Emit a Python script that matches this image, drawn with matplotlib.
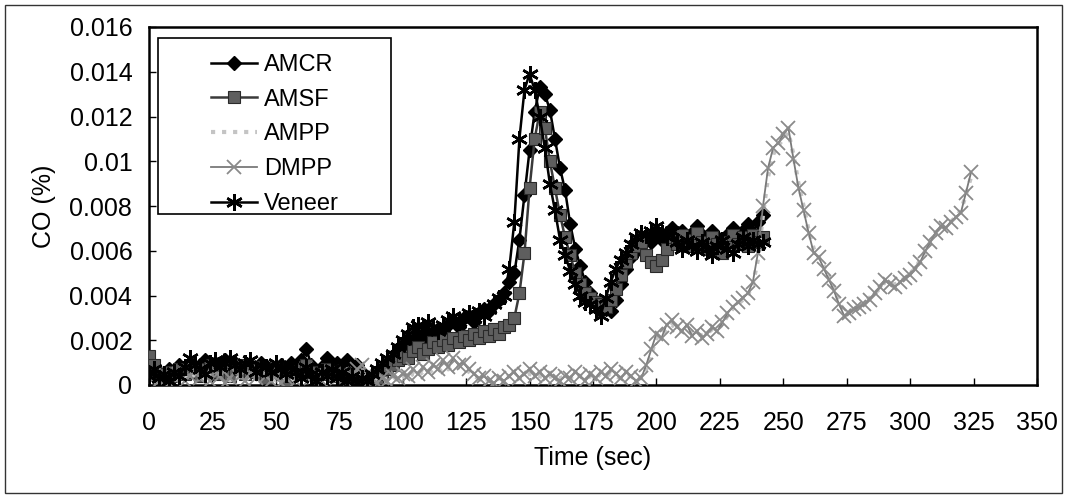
import numpy as np
import matplotlib
matplotlib.use("Agg")
import matplotlib.pyplot as plt
from matplotlib.patches import Rectangle
from matplotlib.ticker import FormatStrFormatter

plt.rcParams['font.family'] = ['Liberation Sans', 'DejaVu Sans']

# time axes (sec)
t_short = np.arange(0, 243, 2)   # AMCR, AMSF, Veneer
t_long = np.arange(0, 325, 2)    # AMPP, DMPP

amcr = [
    0.0008, 0.0004, 0.0006, 0.0003, 0.0007, 0.0005, 0.0009, 0.0006,
    0.0010, 0.0007, 0.0009, 0.0011, 0.0006, 0.0010, 0.0008, 0.0011,
    0.0007, 0.0010, 0.0008, 0.0006, 0.0009, 0.0007, 0.0010, 0.0005,
    0.0008, 0.0006, 0.0009, 0.0004, 0.0010, 0.0007, 0.0011, 0.0016,
    0.0009, 0.0005, 0.0008, 0.0012, 0.0006, 0.0010, 0.0004, 0.0011,
    0.0005, 0.0009, 0.0003, 0.0001, 0.0002, 0.0004, 0.0006, 0.0009,
    0.0012, 0.0015, 0.0018, 0.0016, 0.0020, 0.0022, 0.0019, 0.0023,
    0.0021, 0.0025, 0.0024, 0.0027, 0.0029, 0.0026, 0.0030, 0.0031,
    0.0028, 0.0032, 0.0034, 0.0033, 0.0036, 0.0038, 0.0041, 0.0046,
    0.0050, 0.0065, 0.0085, 0.0105, 0.0122, 0.0133, 0.0130, 0.0123,
    0.0110, 0.0097, 0.0087, 0.0072, 0.0061, 0.0053, 0.0046, 0.0041,
    0.0037, 0.0036, 0.0034, 0.0033, 0.0038, 0.0045, 0.0052, 0.0057,
    0.0060, 0.0063, 0.0066, 0.0064, 0.0067, 0.0065, 0.0068, 0.0070,
    0.0066, 0.0069, 0.0064, 0.0068, 0.0071, 0.0067, 0.0065, 0.0069,
    0.0066, 0.0062, 0.0067, 0.0070, 0.0066, 0.0069, 0.0072, 0.0068,
    0.0073, 0.0076,
]

amsf = [
    0.0013, 0.0009, 0.0005, 0.0003, 0.0006, 0.0004, 0.0007, 0.0005,
    0.0008, 0.0006, 0.0004, 0.0007, 0.0009, 0.0005, 0.0006, 0.0008,
    0.0004, 0.0007, 0.0009, 0.0005, 0.0006, 0.0008, 0.0005, 0.0003,
    0.0006, 0.0008, 0.0005, 0.0002, 0.0004, 0.0007, 0.0005, 0.0009,
    0.0006, 0.0003, 0.0005, 0.0007, 0.0004, 0.0006, 0.0003, 0.0005,
    0.0002, 0.0004, 0.0001, 0.0002, 0.0001, 0.0003, 0.0005, 0.0007,
    0.0009, 0.0011, 0.0013, 0.0012, 0.0015, 0.0017, 0.0014, 0.0016,
    0.0019, 0.0017, 0.0020, 0.0018, 0.0021, 0.0019, 0.0022, 0.0020,
    0.0023, 0.0021, 0.0024, 0.0022, 0.0025, 0.0023, 0.0026, 0.0027,
    0.0030, 0.0041, 0.0059, 0.0088, 0.0110, 0.0122, 0.0115, 0.0100,
    0.0088, 0.0076, 0.0066, 0.0058, 0.0050, 0.0045, 0.0041, 0.0039,
    0.0037, 0.0036, 0.0035, 0.0038, 0.0043, 0.0049, 0.0055, 0.0059,
    0.0062, 0.0064, 0.0058, 0.0055, 0.0053, 0.0056, 0.0061, 0.0066,
    0.0063, 0.0067, 0.0062, 0.0065, 0.0068, 0.0064, 0.0061, 0.0066,
    0.0063, 0.0059, 0.0064, 0.0067, 0.0063, 0.0066, 0.0062, 0.0067,
    0.0064, 0.0066,
]

veneer = [
    0.0004, 0.0007, 0.0003, 0.0005, 0.0002, 0.0006, 0.0004, 0.0008,
    0.0012, 0.0009, 0.0007, 0.0005, 0.0010, 0.0011, 0.0008, 0.0010,
    0.0012, 0.0009, 0.0007, 0.0010, 0.0011, 0.0006, 0.0009, 0.0008,
    0.0006, 0.0010, 0.0007, 0.0005, 0.0009, 0.0006, 0.0003, 0.0008,
    0.0005, 0.0002, 0.0006, 0.0004, 0.0007, 0.0003, 0.0006, 0.0002,
    0.0004, 0.0001, 0.0003, 0.0002, 0.0005, 0.0007, 0.0010, 0.0012,
    0.0014, 0.0017, 0.0020, 0.0023, 0.0026, 0.0027, 0.0025, 0.0028,
    0.0026, 0.0024, 0.0027, 0.0029, 0.0031, 0.0028, 0.0030, 0.0032,
    0.0030, 0.0033, 0.0031, 0.0034, 0.0036, 0.0039, 0.0040, 0.0052,
    0.0073, 0.0110, 0.0132, 0.0139, 0.0132, 0.0120, 0.0106, 0.0090,
    0.0078, 0.0065, 0.0058, 0.0051, 0.0045, 0.0040, 0.0037, 0.0036,
    0.0034, 0.0031, 0.0039, 0.0046, 0.0052, 0.0056, 0.0059, 0.0063,
    0.0066, 0.0068, 0.0067, 0.0069, 0.0071, 0.0068, 0.0066, 0.0069,
    0.0064, 0.0061, 0.0065, 0.0062, 0.0060, 0.0064, 0.0061, 0.0058,
    0.0062, 0.0065, 0.0061, 0.0059, 0.0063, 0.0066, 0.0062, 0.0065,
    0.0063, 0.0064,
]

dmpp = [
    0.0003, 0.0005, 0.0002, 0.0004, 0.0001, 0.0003, 0.0005, 0.0002,
    0.0004, 0.0007, 0.0003, 0.0005, 0.0002, 0.0006, 0.0004, 0.0001,
    0.0003, 0.0006, 0.0004, 0.0002, 0.0005, 0.0003, 0.0006, 0.0004,
    0.0002, 0.0004, 0.0001, 0.0003, 0.0005, 0.0002, 0.0004, 0.0007,
    0.0003, 0.0005, 0.0002, 0.0004, 0.0006, 0.0003, 0.0005, 0.0002,
    0.0004, 0.0007, 0.0009, 0.0005, 0.0003, 0.0001, 0.0003, 0.0002,
    0.0004, 0.0003, 0.0005, 0.0004, 0.0007, 0.0005, 0.0008, 0.0006,
    0.0009, 0.0007, 0.0011, 0.0008, 0.0012, 0.0009, 0.0010, 0.0007,
    0.0005, 0.0003, 0.0004, 0.0002, 0.0001, 0.0003, 0.0002, 0.0004,
    0.0006, 0.0003, 0.0005, 0.0007, 0.0004, 0.0006, 0.0003, 0.0005,
    0.0003, 0.0002, 0.0004, 0.0003, 0.0006, 0.0004, 0.0002, 0.0005,
    0.0003, 0.0006, 0.0004, 0.0007, 0.0005, 0.0003, 0.0006, 0.0004,
    0.0002, 0.0003, 0.0009, 0.0016, 0.0023, 0.0021, 0.0027, 0.0029,
    0.0026, 0.0024, 0.0027, 0.0022, 0.0024, 0.0021, 0.0023, 0.0026,
    0.0024, 0.0028, 0.0032, 0.0035, 0.0037, 0.0039, 0.0041, 0.0046,
    0.0059, 0.0080, 0.0097, 0.0106, 0.0108, 0.0112, 0.0115, 0.0101,
    0.0088, 0.0078, 0.0068, 0.0059, 0.0057, 0.0052, 0.0047, 0.0042,
    0.0036, 0.0031, 0.0032, 0.0034, 0.0035, 0.0036, 0.0038, 0.0041,
    0.0044, 0.0047, 0.0045, 0.0044, 0.0046, 0.0048, 0.0049, 0.0052,
    0.0055, 0.0060, 0.0064, 0.0068, 0.0071, 0.0070, 0.0073, 0.0075,
    0.0077, 0.0086, 0.0095,
]

ampp = [
    0.0005, 0.0003, 0.0004, 0.0002, 0.0004, 0.0002, 0.0003, 0.0004,
    0.0002, 0.0005, 0.0004, 0.0002, 0.0004, 0.0003, 0.0005, 0.0003,
    0.0002, 0.0004, 0.0003, 0.0004, 0.0002, 0.0004, 0.0003, 0.0005,
    0.0003, 0.0002, 0.0003, 0.0004, 0.0002, 0.0004, 0.0003, 0.0005,
    0.0004, 0.0002, 0.0003, 0.0005, 0.0004, 0.0002, 0.0003, 0.0004,
    0.0003, 0.0005, 0.0006, 0.0004, 0.0002, 0.0003, 0.0002, 0.0003,
    0.0004, 0.0002, 0.0004, 0.0003, 0.0005, 0.0004, 0.0006, 0.0005,
    0.0007, 0.0006, 0.0008, 0.0007, 0.0009, 0.0008, 0.0007, 0.0006,
    0.0004, 0.0003, 0.0003, 0.0002, 0.0002, 0.0003, 0.0003, 0.0004,
    0.0004, 0.0003, 0.0004, 0.0005, 0.0004, 0.0004, 0.0003, 0.0004,
    0.0003, 0.0003, 0.0004, 0.0003, 0.0005, 0.0004, 0.0003, 0.0004,
    0.0003, 0.0005, 0.0004, 0.0005, 0.0004, 0.0003, 0.0004, 0.0004,
    0.0003, 0.0003, 0.0007, 0.0014, 0.0021, 0.0022, 0.0025, 0.0027,
    0.0025, 0.0024, 0.0025, 0.0023, 0.0023, 0.0022, 0.0023, 0.0025,
    0.0025, 0.0027, 0.0031, 0.0034, 0.0036, 0.0038, 0.0040, 0.0045,
    0.0056, 0.0076, 0.0093, 0.0103, 0.0107, 0.0110, 0.0113, 0.0103,
    0.0090, 0.0080, 0.0069, 0.0061, 0.0057, 0.0053, 0.0048, 0.0043,
    0.0037, 0.0033, 0.0033, 0.0034, 0.0035, 0.0037, 0.0039, 0.0041,
    0.0043, 0.0046, 0.0045, 0.0045, 0.0046, 0.0048, 0.0050, 0.0052,
    0.0056, 0.0060, 0.0064, 0.0067, 0.0070, 0.0071, 0.0073, 0.0075,
    0.0078, 0.0085, 0.0093,
]

x_ticks = list(range(0, 351, 25))
y_ticks = [0, 0.002, 0.004, 0.006, 0.008, 0.010, 0.012, 0.014, 0.016]

W, H = 1068, 495
FS = 18
fig = plt.figure(figsize=(W / 100, H / 100), dpi=100)
ax = fig.add_axes([149 / W, 1 - 385 / H, (1037 - 149) / W, (385 - 27) / H])

l1, = ax.plot(t_short, amcr, color='black', lw=1.8, marker='D', ms=7,
              mfc='black', mec='black', label='AMCR', zorder=3)
l2, = ax.plot(t_short, amsf, color='#3a3a3a', lw=1.8, marker='s', ms=8,
              mfc='#5e5e5e', mec='#2a2a2a', mew=0.8, label='AMSF', zorder=3)
l3, = ax.plot(t_long, ampp, color='#c4c4c4', lw=3.0, ls=':', label='AMPP', zorder=3)
l4, = ax.plot(t_long, dmpp, color='#7a7a7a', lw=1.3, marker='x', ms=10,
              mec='#8a8a8a', mew=1.3, label='DMPP', zorder=3)
l5, = ax.plot(t_short, veneer, color='black', lw=1.8, marker=(6, 2, 0), ms=12,
              mec='black', mew=1.8, label='Veneer', zorder=3)

ax.set_xlim(0, 350)
ax.set_ylim(0, 0.016)
ax.set_xticks(x_ticks)
ax.set_yticks(y_ticks)
ax.yaxis.set_major_formatter(FormatStrFormatter('%g'))
ax.tick_params(direction='in', length=5, width=1, labelsize=FS, colors='black')
ax.tick_params(axis='x', pad=19)
ax.tick_params(axis='y', pad=12)
for s in ax.spines.values():
    s.set_linewidth(1.8)
    s.set_color('black')

ax.set_xlabel('Time (sec)', fontsize=FS, labelpad=8)
ax.set_ylabel('CO (%)', fontsize=FS, labelpad=10)

# legend frame + legend
frame = Rectangle((158 / W, 1 - 214 / H), (391 - 158) / W, (214 - 38) / H,
                  transform=fig.transFigure, facecolor='white', edgecolor='black',
                  lw=1.2, zorder=4)
fig.patches.append(frame)
leg = fig.legend(handles=[l1, l2, l3, l4, l5], loc='upper left',
                 bbox_to_anchor=(211 / W, 1 - 54 / H), frameon=False,
                 fontsize=17, borderpad=0, handlelength=1.95, handletextpad=0.3,
                 labelspacing=0.54, borderaxespad=0)
leg.set_zorder(5)

# outer border
border = Rectangle((5 / W, 2 / H), (1062 - 5) / W, (493 - 5) / H,
                   transform=fig.transFigure, fill=False, edgecolor='#333333', lw=1.0)
fig.patches.append(border)

fig.savefig('out.png', dpi=100)
